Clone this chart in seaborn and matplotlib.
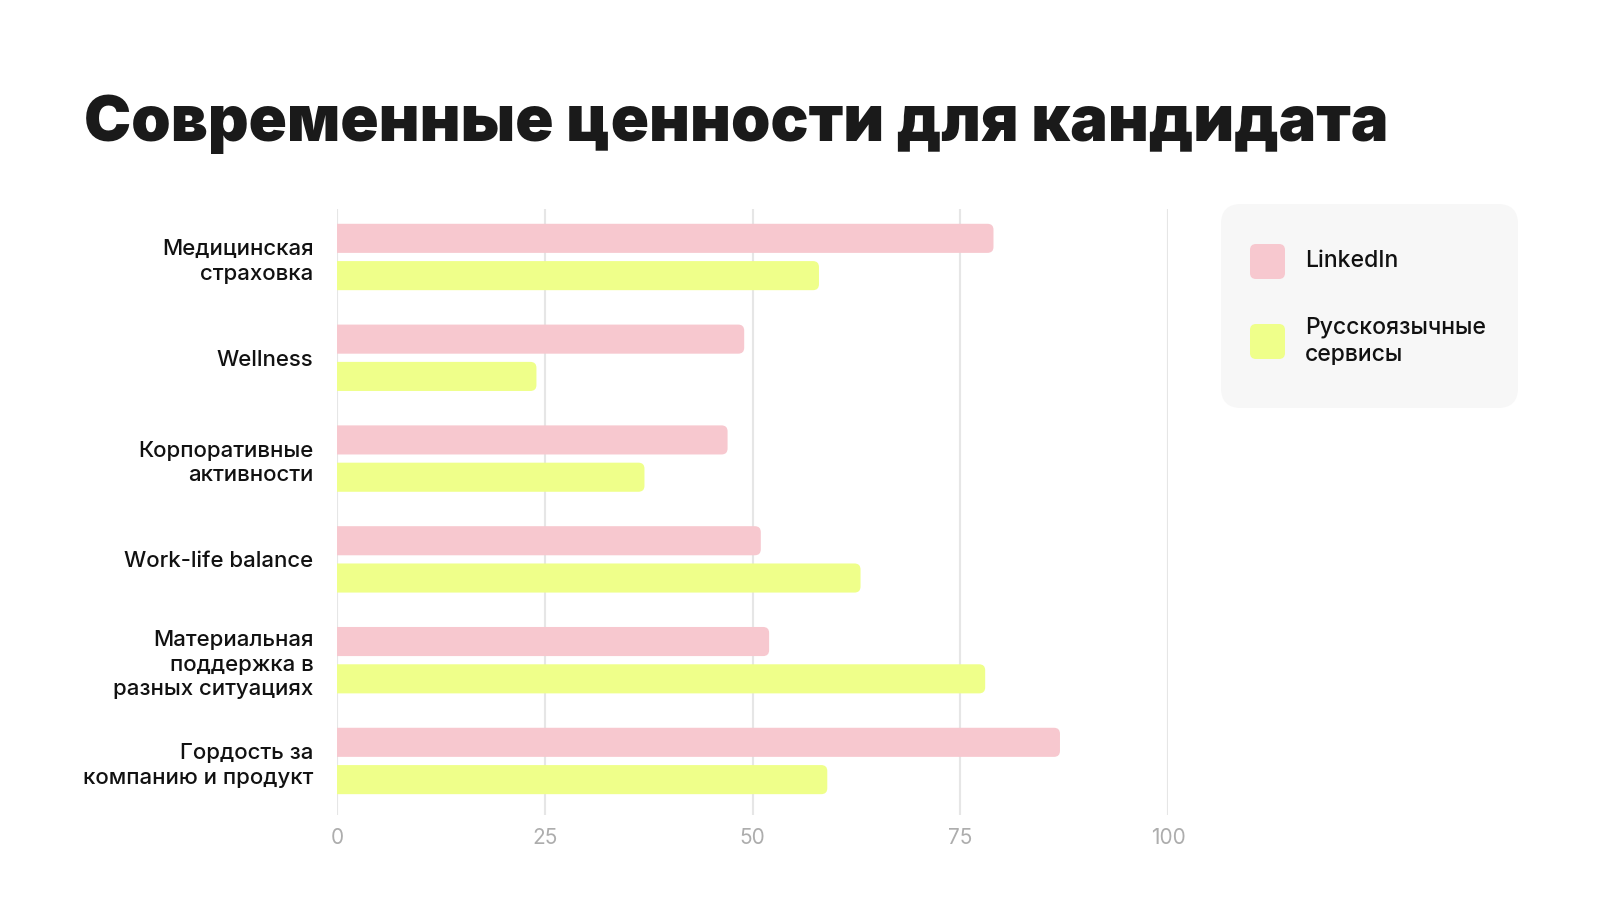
import numpy as np
import pandas as pd
import matplotlib
matplotlib.use("Agg")
import matplotlib.pyplot as plt
from matplotlib.patches import FancyBboxPatch
import seaborn as sns

# data
categories = [
    "Медицинская\nстраховка",
    "Wellness",
    "Корпоративные\nактивности",
    "Work-life balance",
    "Материальная\nподдержка в\nразных ситуациях",
    "Гордость за\nкомпанию и продукт",
]
series_names = ["LinkedIn", "Русскоязычные\nсервисы"]
linkedin = [79, 49, 47, 51, 52, 87]
russian = [58, 24, 37, 63, 78, 59]
x_ticks = [0, 25, 50, 75, 100]
title = "Современные ценности для кандидата"

colors = {series_names[0]: "#F7C8CF", series_names[1]: "#EFFF8A"}

df = pd.DataFrame({
    "category": categories * 2,
    "source": [series_names[0]] * len(categories) + [series_names[1]] * len(categories),
    "value": linkedin + russian,
})

sns.set_theme(style="white")
plt.rcParams["font.family"] = ["Inter", "DejaVu Sans"]

W, H = 1600, 900
fig = plt.figure(figsize=(16, 9), dpi=100)
fig.patch.set_facecolor("white")

# main axes placed in pixel terms
left, right, top, bottom = 337, 1168, 209, 815
ax = fig.add_axes([left / W, 1 - bottom / H, (right - left) / W, (bottom - top) / H])

sns.barplot(
    data=df, y="category", x="value", hue="source", order=categories,
    hue_order=series_names, palette=colors, orient="h",
    width=0.74, gap=0.22, legend=False, ax=ax, saturation=1,
)

ax.set_xlim(0, 100)
ax.set_ylim(len(categories) - 1 + 0.536, -0.476)

# rounded bar ends: swap seaborn rectangles for rounded boxes
px_x = ax.transData.transform((1, 0))[0] - ax.transData.transform((0, 0))[0]
px_y = abs(ax.transData.transform((0, 1))[1] - ax.transData.transform((0, 0))[1])
r_px = 6
for p in list(ax.patches):
    x0, y0 = p.get_x(), p.get_y()
    w, h = p.get_width(), p.get_height()
    fc = p.get_facecolor()
    p.remove()
    fb = FancyBboxPatch(
        (x0 - 2, y0), w + 2, h,
        boxstyle=f"round,pad=0,rounding_size={r_px / px_x}",
        mutation_aspect=px_x / px_y,
        facecolor=fc, edgecolor="none", zorder=2, clip_on=True,
    )
    ax.add_patch(fb)

ax.set_xticks(x_ticks)
ax.grid(axis="x", color="#E6E6E6", linewidth=1.5, zorder=0)
ax.grid(axis="y", visible=False)
ax.set_axisbelow(True)
for s in ax.spines.values():
    s.set_visible(False)
ax.tick_params(axis="x", length=0, pad=9, labelsize=15, labelcolor="#ADADAD")
ax.tick_params(axis="y", length=0, pad=17, labelsize=16, labelcolor="#111111")
for lbl in ax.get_yticklabels():
    lbl.set_horizontalalignment("right")
    lbl.set_multialignment("right")
    lbl.set_fontweight("medium")
    lbl.set_linespacing(1.3)
ax.set_xlabel("")
ax.set_ylabel("")

# title
fig.text(84 / W, 1 - 141 / H, title, fontsize=45.5, fontweight="black",
         color="#1A1A1A", ha="left", va="baseline")

# legend panel drawn in pixel coordinates
lx0, ly0, lx1, ly1 = 1221, 204, 1518, 408
lax = fig.add_axes([lx0 / W, 1 - ly1 / H, (lx1 - lx0) / W, (ly1 - ly0) / H])
lax.set_xlim(0, lx1 - lx0)
lax.set_ylim(ly1 - ly0, 0)
lax.axis("off")
lax.add_patch(FancyBboxPatch((0, 0), lx1 - lx0, ly1 - ly0,
                             boxstyle="round,pad=0,rounding_size=20",
                             facecolor="#F7F7F7", edgecolor="none", clip_on=False))
sw_centers = [261, 341]
for name, cy in zip(series_names, sw_centers):
    cy = cy - ly0
    lax.add_patch(FancyBboxPatch((29, cy - 17), 35, 35,
                                 boxstyle="round,pad=0,rounding_size=6",
                                 facecolor=colors[name], edgecolor="none", clip_on=False))
    lax.text(84, cy, name, fontsize=16.5, fontweight="medium", color="#111111",
             va="center", ha="left", linespacing=1.3)

fig.savefig("out.png", dpi=100, facecolor="white")
